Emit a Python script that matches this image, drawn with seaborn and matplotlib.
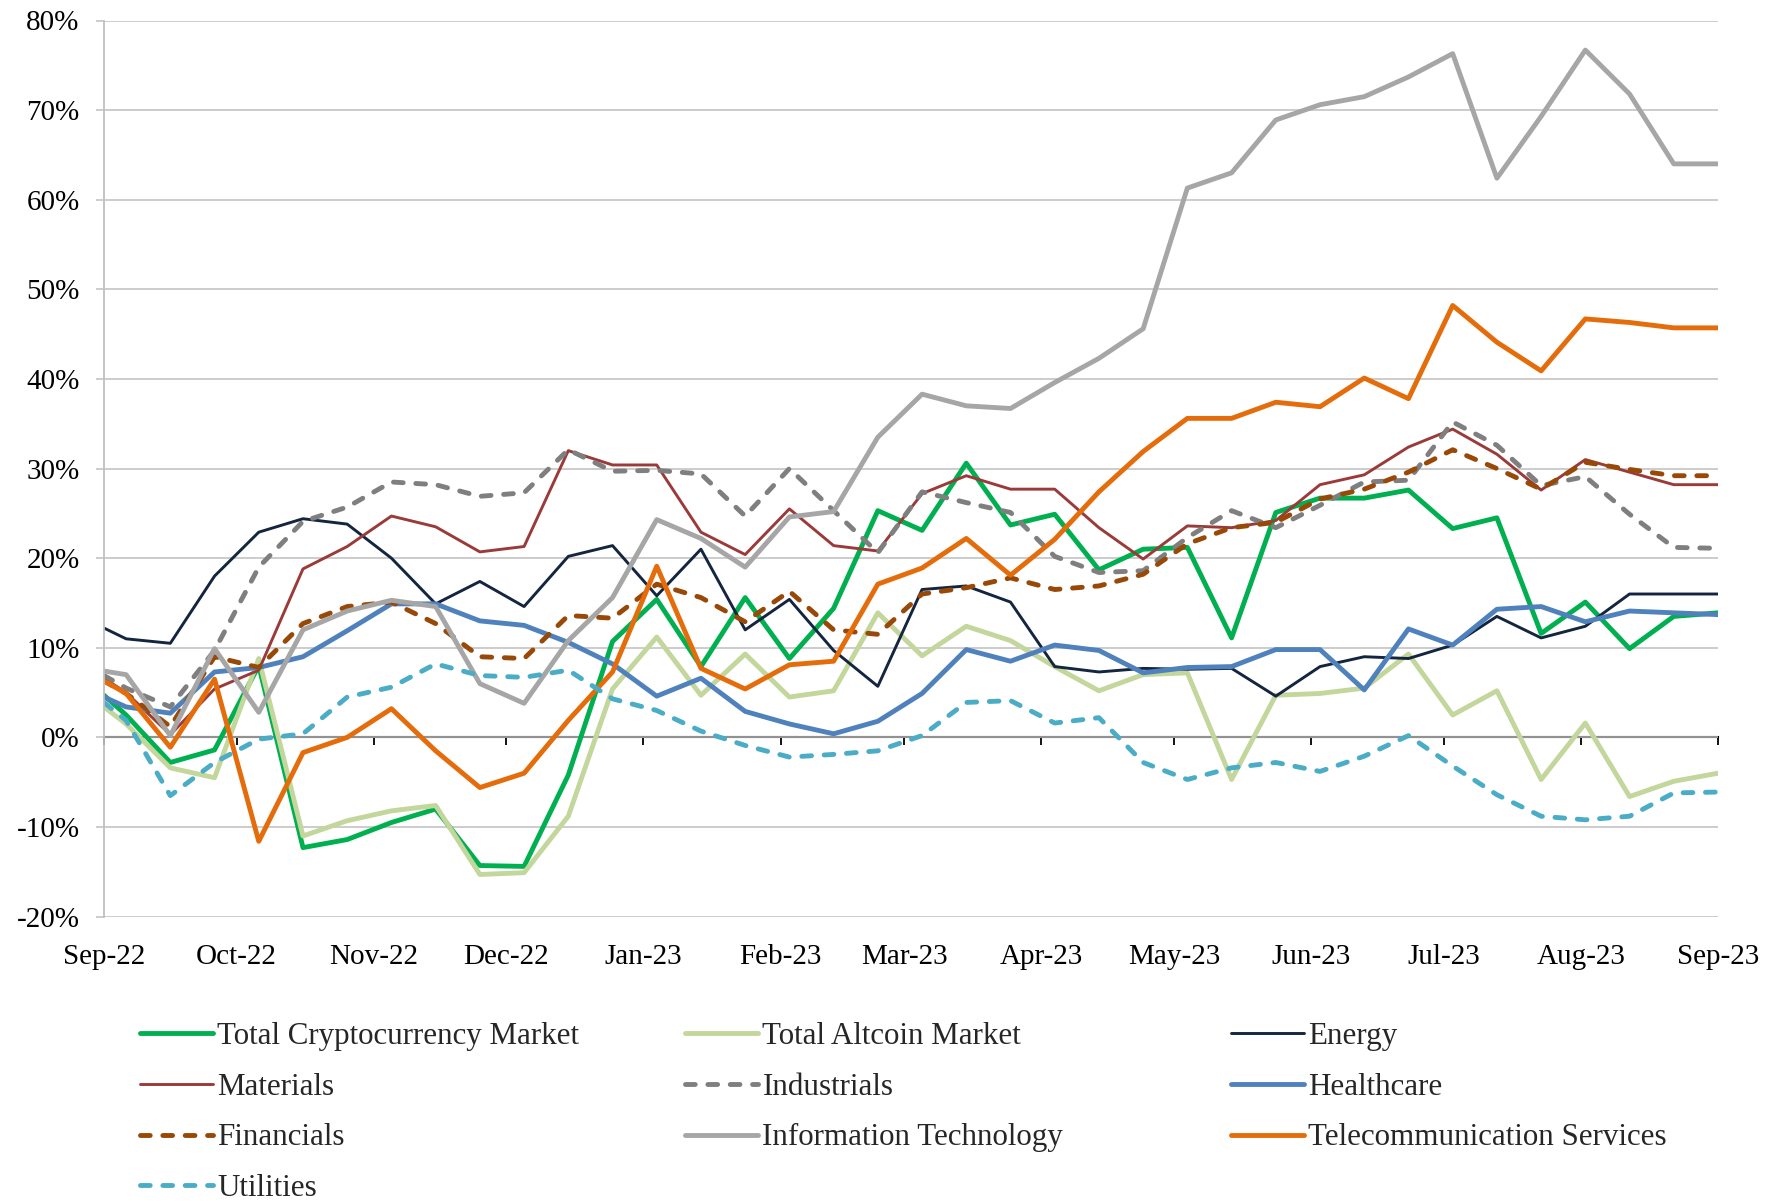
import numpy as np
import pandas as pd
import matplotlib
matplotlib.use("Agg")
import matplotlib.pyplot as plt
import matplotlib.dates as mdates
from matplotlib.ticker import FuncFormatter, MultipleLocator
import seaborn as sns

# ---- data (percent returns) ----
dates = pd.to_datetime(["2022-09-01"]).append(pd.date_range("2022-09-06", periods=37, freq="10D"))

crypto = [4.7, 2.5, -2.8, -1.4, 8.0, -12.3, -11.4, -9.5, -8.0, -14.3, -14.4, -4.2, 10.7, 15.4, 7.9, 15.6, 8.8, 14.4, 25.3,
          23.1, 30.6, 23.7, 24.9, 18.7, 21.0, 21.2, 11.1, 25.1, 26.7, 26.7, 27.6, 23.3, 24.5, 11.6, 15.1, 9.9, 13.5, 13.9]
altcoin = [3.4, 1.5, -3.4, -4.5, 8.8, -11.0, -9.3, -8.2, -7.6, -15.3, -15.1, -8.8, 5.4, 11.2, 4.7, 9.3, 4.5, 5.2, 13.9,
           9.1, 12.4, 10.8, 7.9, 5.2, 7.0, 7.2, -4.7, 4.7, 4.9, 5.5, 9.3, 2.5, 5.2, -4.7, 1.6, -6.6, -4.9, -4.0]
energy = [12.2, 11.0, 10.5, 18.0, 22.9, 24.4, 23.8, 20.0, 14.9, 17.4, 14.6, 20.2, 21.4, 15.8, 21.0, 12.0, 15.4, 9.7, 5.7,
          16.5, 16.9, 15.1, 7.9, 7.3, 7.7, 7.6, 7.7, 4.6, 7.9, 9.0, 8.8, 10.3, 13.5, 11.1, 12.4, 16.0, 16.0, 16.0]
materials = [6.6, 5.0, 0.3, 5.4, 7.5, 18.8, 21.3, 24.7, 23.5, 20.7, 21.3, 32.0, 30.4, 30.4, 22.9, 20.4, 25.5, 21.4, 20.8,
             27.2, 29.2, 27.7, 27.7, 23.4, 19.9, 23.6, 23.4, 24.2, 28.2, 29.3, 32.4, 34.4, 31.6, 27.6, 31.0, 29.6, 28.2, 28.2]
industrials = [6.9, 5.5, 3.4, 9.7, 19.0, 24.1, 25.7, 28.5, 28.2, 26.9, 27.3, 32.1, 29.7, 29.8, 29.4, 24.7, 30.0, 25.3, 20.6,
               27.4, 26.2, 25.1, 20.2, 18.4, 18.6, 22.3, 25.3, 23.4, 25.9, 28.5, 28.7, 35.2, 32.6, 28.1, 29.1, 24.9, 21.2, 21.1]
healthcare = [4.5, 3.4, 2.7, 7.3, 7.8, 9.0, 11.9, 14.9, 14.9, 13.0, 12.5, 10.6, 8.2, 4.6, 6.6, 2.9, 1.5, 0.4, 1.8,
              4.9, 9.8, 8.5, 10.3, 9.7, 7.2, 7.8, 7.9, 9.8, 9.8, 5.3, 12.1, 10.3, 14.3, 14.6, 12.9, 14.1, 13.9, 13.7]
financials = [6.3, 4.9, 1.2, 9.0, 7.8, 12.7, 14.6, 15.1, 12.7, 9.0, 8.8, 13.6, 13.3, 17.1, 15.6, 12.9, 16.3, 12.0, 11.5,
              16.0, 16.7, 17.8, 16.5, 16.9, 18.2, 21.6, 23.4, 24.0, 26.6, 27.7, 29.6, 32.1, 30.0, 27.7, 30.7, 29.9, 29.2, 29.2]
info_tech = [7.4, 7.0, 0.2, 9.9, 2.8, 12.0, 14.1, 15.3, 14.6, 6.0, 3.8, 10.8, 15.6, 24.3, 22.2, 19.0, 24.6, 25.2, 33.5,
             38.3, 37.0, 36.7, 39.6, 42.3, 45.6, 61.3, 63.0, 68.9, 70.6, 71.5, 73.7, 76.3, 62.4, 69.3, 76.7, 71.8, 64.0, 64.0]
telecom = [6.3, 4.9, -1.1, 6.5, -11.6, -1.7, 0.0, 3.2, -1.5, -5.6, -4.0, 1.9, 7.3, 19.1, 7.7, 5.4, 8.1, 8.5, 17.1,
           18.9, 22.2, 18.1, 22.1, 27.4, 31.9, 35.6, 35.6, 37.4, 36.9, 40.1, 37.8, 48.2, 44.1, 40.9, 46.7, 46.3, 45.7, 45.7]
utilities = [3.9, 1.9, -6.5, -2.8, -0.2, 0.4, 4.5, 5.6, 8.2, 6.9, 6.7, 7.5, 4.3, 3.0, 0.7, -0.9, -2.2, -1.9, -1.5,
             0.2, 3.9, 4.1, 1.6, 2.2, -2.8, -4.7, -3.4, -2.8, -3.8, -2.1, 0.2, -3.2, -6.4, -8.8, -9.2, -8.8, -6.2, -6.1]

series_names = ["Total Cryptocurrency Market", "Total Altcoin Market", "Energy",
                "Materials", "Industrials", "Healthcare",
                "Financials", "Information Technology", "Telecommunication Services",
                "Utilities"]
series_values = [crypto, altcoin, energy, materials, industrials, healthcare,
                 financials, info_tech, telecom, utilities]
colors = ["#00B050", "#C3D69B", "#14253F", "#9A3B39", "#7F7F7F", "#4F81BD",
          "#984807", "#A6A6A6", "#E46C0A", "#4BACC6"]
widths = [3.5, 3.5, 2.1, 2.1, 3.5, 3.5, 3.5, 3.5, 3.5, 3.5]
dashed = [False, False, False, False, True, False, True, False, False, True]

# ---- style ----
sns.set_theme(style="white")
plt.rcParams["font.family"] = ["Liberation Serif", "DejaVu Serif"]
FS = 21
LFS = 22.3

fig = plt.figure(figsize=(17.82, 12.01), dpi=100)
ax = fig.add_axes([104 / 1782, 1 - 916.6 / 1201, (1718 - 104) / 1782, (916.6 - 20.5) / 1201])

handles = {}
for name, vals, c, w, d in zip(series_names, series_values, colors, widths, dashed):
    df = pd.DataFrame({"date": dates, "value": vals})
    sns.lineplot(data=df, x="date", y="value", ax=ax, color=c, linewidth=w, label=name, legend=False)
    ln = ax.lines[-1]
    ln.set_solid_joinstyle("round")
    ln.set_solid_capstyle("round")
    if d:
        ln.set_dashes((2.0, 2.6))
        ln.set_dash_capstyle("round")
        ln.set_dash_joinstyle("round")
    handles[name] = ln

ax.set_xlim(pd.Timestamp("2022-09-01"), pd.Timestamp("2023-09-01"))
ax.set_ylim(-20, 80)
ax.yaxis.set_major_locator(MultipleLocator(10))
ax.yaxis.set_major_formatter(FuncFormatter(lambda v, p: f"{v:.0f}%"))
ax.xaxis.set_major_locator(mdates.MonthLocator())
ax.xaxis.set_major_formatter(mdates.DateFormatter("%b-%y"))
ax.set_xlabel("")
ax.set_ylabel("")

ax.grid(axis="y", color="#BFBFBF", linewidth=1.1)
ax.grid(axis="x", visible=False)
ax.set_axisbelow(True)
for s in ["top", "right", "bottom"]:
    ax.spines[s].set_visible(False)
ax.spines["left"].set_color("#BFBFBF")
ax.spines["left"].set_linewidth(1.3)

ax.tick_params(axis="y", which="major", direction="out", length=5.5, width=1.1, color="#BFBFBF",
               labelsize=FS, pad=12, left=True, labelcolor="#000000")
ax.tick_params(axis="x", which="major", length=0, labelsize=FS, pad=20, labelcolor="#000000")

# category axis crossing at zero
sec = ax.secondary_xaxis(0, transform=ax.transData)
sec.xaxis.set_major_locator(mdates.MonthLocator())
sec.tick_params(axis="x", direction="out", length=6, width=1.3, color="black", labelbottom=False)
sec.spines["bottom"].set_color("black")
sec.spines["bottom"].set_linewidth(1.5)

# legend: three columns placed like the original
col_items = [series_names[0::3], series_names[1::3], series_names[2::3]]
col_x = [140 / 1782, 685 / 1782, 1231 / 1782]
for items, x in zip(col_items, col_x):
    leg = fig.legend([handles[n] for n in items], items, loc="upper left",
                     bbox_to_anchor=(x, 1 - 1022 / 1201), frameon=False, fontsize=LFS,
                     handlelength=2.35, handletextpad=0.15, labelspacing=0.7,
                     borderpad=0, borderaxespad=0)

fig.savefig("out.png", dpi=100)
